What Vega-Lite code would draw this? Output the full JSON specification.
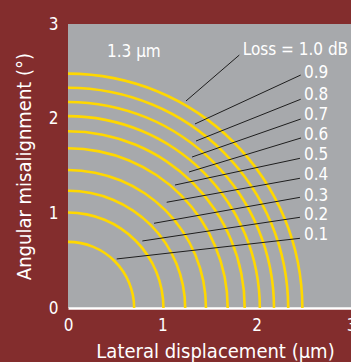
{
  "$schema": "https://vega.github.io/schema/vega-lite/v6.json",
  "width": 283,
  "height": 284,
  "autosize": {"type": "none"},
  "padding": {"left": 68, "top": 24, "right": 0, "bottom": 54},
  "background": "#832D2D",
  "config": {
    "view": {"fill": "#A7A9AC", "stroke": null},
    "font": "DejaVu Sans Condensed, Liberation Sans, sans-serif",
    "axis": {"grid": false, "ticks": false, "labelColor": "#FFFFFF", "titleColor": "#FFFFFF", "labelFontSize": 17, "titleFontSize": 20, "titleFontWeight": "normal", "labelFont": "DejaVu Sans Condensed, Liberation Sans, sans-serif", "titleFont": "DejaVu Sans Condensed, Liberation Sans, sans-serif", "format": "d"}
  },
  "datasets": {
    "arcs": [
      {"loss": 0.1, "r": 0.70},
      {"loss": 0.2, "r": 1.01},
      {"loss": 0.3, "r": 1.24},
      {"loss": 0.4, "r": 1.46},
      {"loss": 0.5, "r": 1.69},
      {"loss": 0.6, "r": 1.87},
      {"loss": 0.7, "r": 2.03},
      {"loss": 0.8, "r": 2.18},
      {"loss": 0.9, "r": 2.33},
      {"loss": 1.0, "r": 2.48}
    ],
    "leaders": [
      {"loss": 1.0, "x": 1.816, "y": 2.672, "x2": 1.251, "y2": 2.187},
      {"loss": 0.9, "x": 2.467, "y": 2.461, "x2": 1.346, "y2": 1.944},
      {"loss": 0.8, "x": 2.467, "y": 2.205, "x2": 1.357, "y2": 1.764},
      {"loss": 0.7, "x": 2.467, "y": 1.996, "x2": 1.315, "y2": 1.595},
      {"loss": 0.6, "x": 2.470, "y": 1.796, "x2": 1.283, "y2": 1.437},
      {"loss": 0.5, "x": 2.459, "y": 1.581, "x2": 1.134, "y2": 1.299},
      {"loss": 0.4, "x": 2.459, "y": 1.370, "x2": 1.046, "y2": 1.117},
      {"loss": 0.3, "x": 2.459, "y": 1.169, "x2": 0.912, "y2": 0.895},
      {"loss": 0.2, "x": 2.459, "y": 0.958, "x2": 0.788, "y2": 0.708},
      {"loss": 0.1, "x": 2.459, "y": 0.736, "x2": 0.516, "y2": 0.518}
    ],
    "labels": [
      {"text": "1.3 μm", "x": 0.413, "y": 2.70},
      {"text": "Loss = 1.0 dB", "x": 1.852, "y": 2.725},
      {"text": "0.9", "x": 2.502, "y": 2.482},
      {"text": "0.8", "x": 2.502, "y": 2.250},
      {"text": "0.7", "x": 2.502, "y": 2.039},
      {"text": "0.6", "x": 2.502, "y": 1.827},
      {"text": "0.5", "x": 2.502, "y": 1.616},
      {"text": "0.4", "x": 2.502, "y": 1.405},
      {"text": "0.3", "x": 2.502, "y": 1.183},
      {"text": "0.2", "x": 2.502, "y": 0.982},
      {"text": "0.1", "x": 2.502, "y": 0.771}
    ]
  },
  "layer": [
    {
      "data": {"name": "arcs"},
      "mark": {"type": "arc", "fill": "#FFD800", "radiusOffset": 1.3, "radius2Offset": -1.3, "theta": 0, "theta2": 1.5708},
      "encoding": {
        "x": {"datum": 0, "type": "quantitative", "scale": {"domain": [0, 3], "nice": false},
              "axis": {"values": [0, 1, 2, 3], "title": "Lateral displacement (µm)", "domainColor": "#FFFFFF", "domainWidth": 2.5, "labelPadding": 9, "titlePadding": 8, "labelFlush": false, "titleX": 147}},
        "y": {"datum": 0, "type": "quantitative", "scale": {"domain": [0, 3], "nice": false},
              "axis": {"values": [0, 1, 2, 3], "title": "Angular misalignment (°)", "domain": false, "labelPadding": 10, "titlePadding": 14, "labelFlush": false}},
        "radius": {"field": "r", "type": "quantitative", "scale": {"type": "linear", "domain": [0, 3], "range": [0, 283.5], "zero": true}},
        "radius2": {"field": "r"}
      }
    },
    {
      "data": {"name": "leaders"},
      "mark": {"type": "rule", "color": "#1E1E1E", "strokeWidth": 1},
      "encoding": {
        "x": {"field": "x", "type": "quantitative"},
        "y": {"field": "y", "type": "quantitative"},
        "x2": {"field": "x2"},
        "y2": {"field": "y2"}
      }
    },
    {
      "data": {"name": "labels"},
      "mark": {"type": "text", "align": "left", "baseline": "middle", "color": "#FFFFFF", "fontSize": 17, "font": "DejaVu Sans Condensed, Liberation Sans, sans-serif"},
      "encoding": {
        "x": {"field": "x", "type": "quantitative"},
        "y": {"field": "y", "type": "quantitative"},
        "text": {"field": "text"}
      }
    }
  ]
}
